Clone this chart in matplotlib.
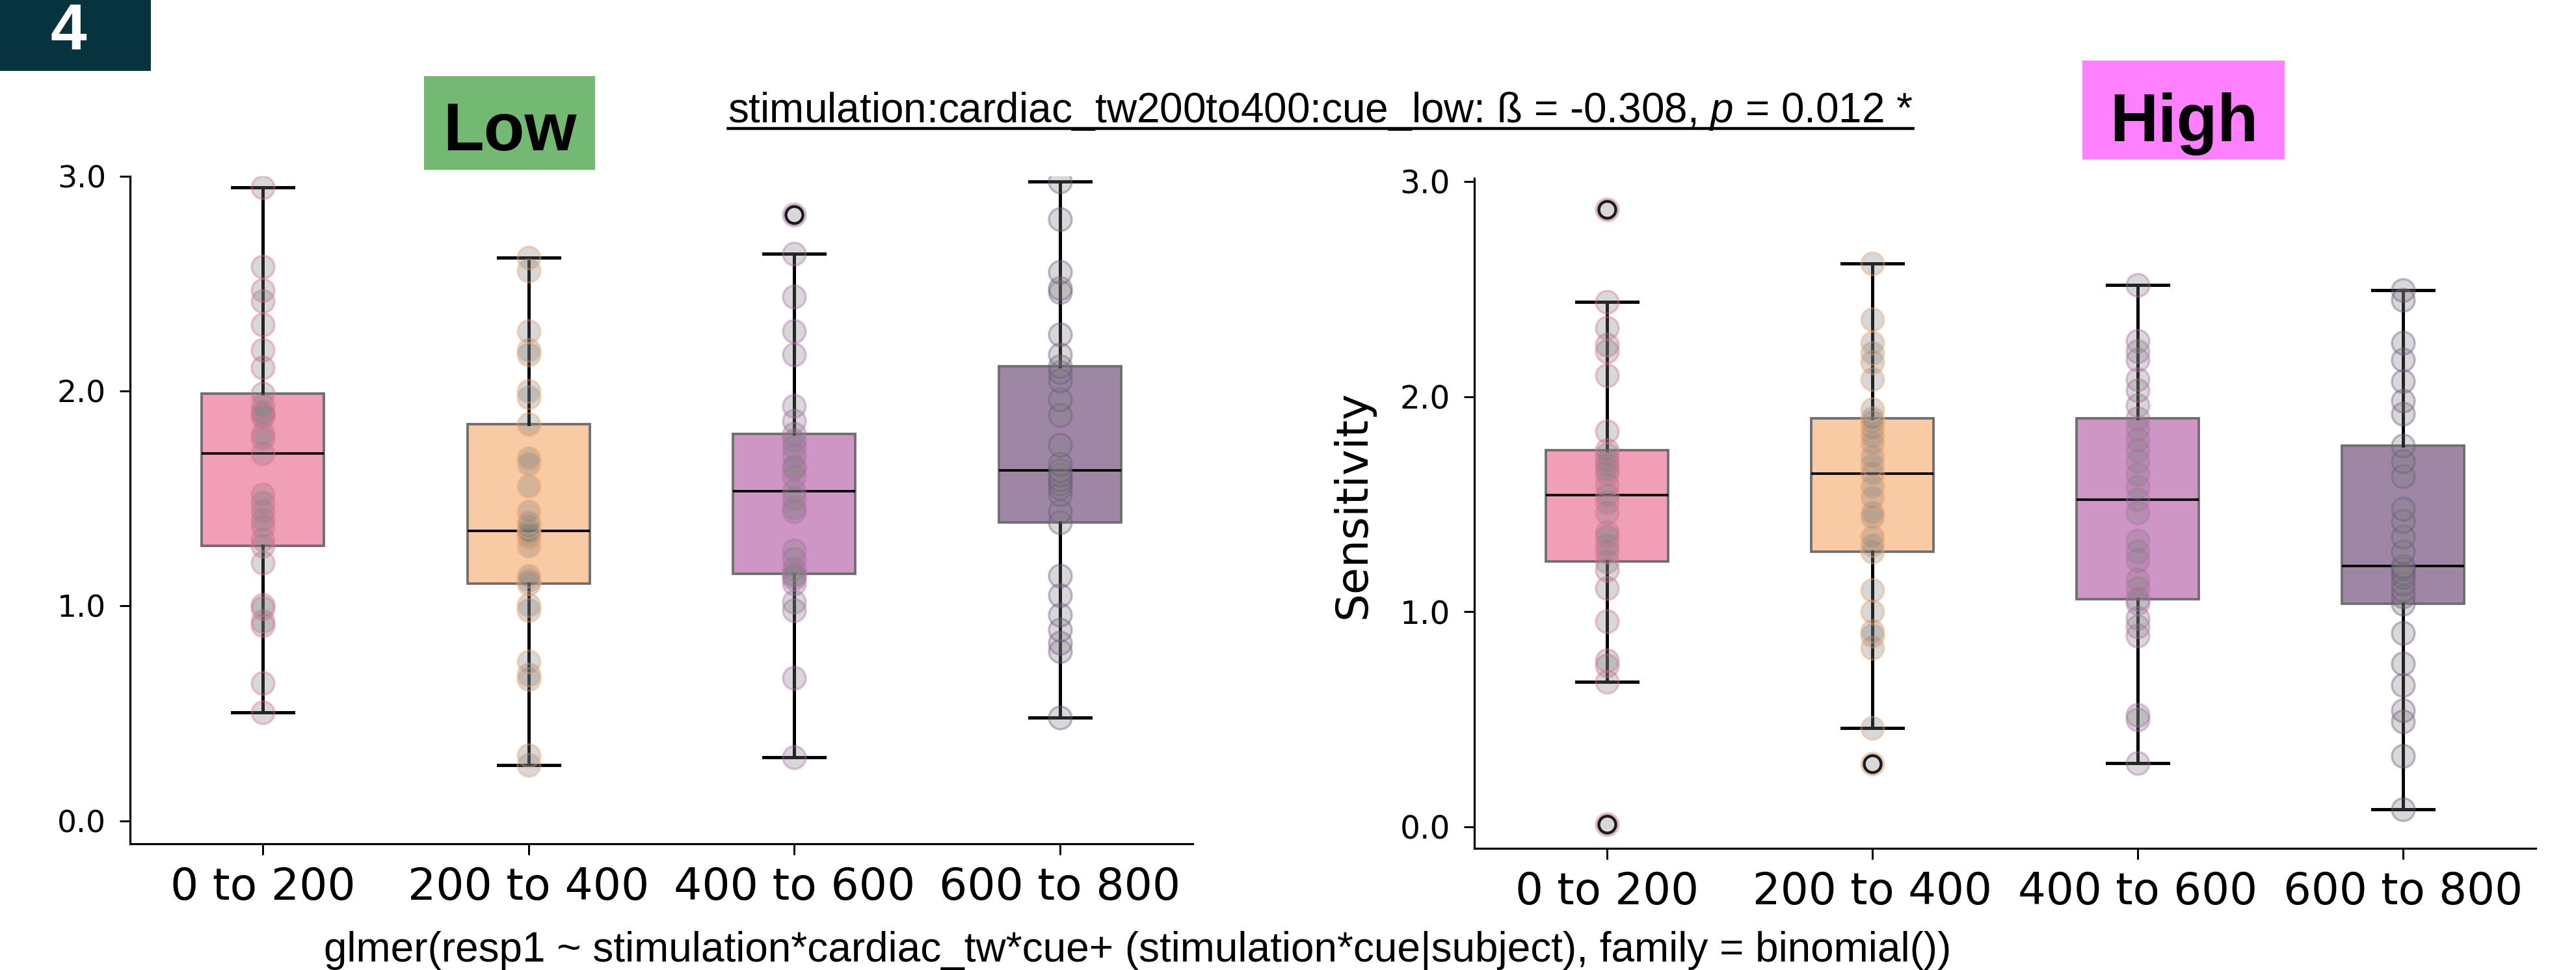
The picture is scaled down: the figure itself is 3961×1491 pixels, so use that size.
import matplotlib
matplotlib.use("Agg")
import matplotlib.pyplot as plt
from matplotlib.patches import Rectangle
from matplotlib.lines import Line2D
import numpy as np

plt.rcParams['mathtext.fontset'] = 'custom'
plt.rcParams['mathtext.rm'] = 'Liberation Sans'
plt.rcParams['mathtext.it'] = 'Liberation Sans:italic'

W, H, DPI = 3961, 1491, 100

# ---------------- data ----------------
categories = ["0 to 200", "200 to 400", "400 to 600", "600 to 800"]
ytick_values = [0.0, 1.0, 2.0, 3.0]
ytick_labels = ["0.0", "1.0", "2.0", "3.0"]

low_0_200 = [0.505, 0.64, 0.91, 0.93, 0.99, 1.005, 1.20, 1.28, 1.31, 1.37, 1.40, 1.44,
             1.48, 1.52, 1.71, 1.78, 1.80, 1.88, 1.89, 1.90, 1.93, 1.99, 2.11, 2.19,
             2.31, 2.42, 2.47, 2.58, 2.95]
low_200_400 = [0.26, 0.305, 0.66, 0.68, 0.74, 0.98, 1.005, 1.105, 1.12, 1.14, 1.28, 1.32,
               1.33, 1.34, 1.35, 1.37, 1.39, 1.44, 1.56, 1.66, 1.69, 1.845, 1.97, 2.00,
               2.17, 2.19, 2.28, 2.56, 2.62]
low_400_600 = [0.295, 0.665, 0.98, 1.02, 1.105, 1.13, 1.14, 1.15, 1.17, 1.22, 1.26, 1.44,
               1.46, 1.50, 1.534, 1.60, 1.64, 1.65, 1.70, 1.74, 1.77, 1.80, 1.86, 1.93,
               2.17, 2.28, 2.44, 2.64, 2.82]
low_600_800 = [0.48, 0.79, 0.83, 0.89, 0.96, 1.05, 1.14, 1.39, 1.44, 1.52, 1.55, 1.57,
               1.59, 1.61, 1.63, 1.66, 1.75, 1.89, 1.96, 2.05, 2.09, 2.116, 2.17, 2.265,
               2.46, 2.48, 2.556, 2.80, 2.976]

high_0_200 = [0.011, 0.675, 0.75, 0.775, 0.955, 1.11, 1.195, 1.235, 1.28, 1.31, 1.35, 1.37,
              1.46, 1.51, 1.543, 1.59, 1.64, 1.66, 1.68, 1.70, 1.73, 1.75, 1.84, 2.10,
              2.21, 2.24, 2.32, 2.44, 2.87]
high_200_400 = [0.294, 0.458, 0.83, 0.89, 0.91, 1.00, 1.10, 1.28, 1.31, 1.35, 1.44, 1.46,
                1.53, 1.58, 1.643, 1.68, 1.72, 1.78, 1.815, 1.85, 1.88, 1.90, 1.94, 2.08,
                2.16, 2.20, 2.25, 2.36, 2.62]
high_400_600 = [0.297, 0.50, 0.52, 0.89, 0.93, 0.97, 1.04, 1.058, 1.11, 1.15, 1.24, 1.28,
                1.33, 1.46, 1.52, 1.58, 1.64, 1.70, 1.75, 1.80, 1.85, 1.90, 1.96, 2.03,
                2.08, 2.17, 2.21, 2.26, 2.52]
high_600_800 = [0.082, 0.33, 0.49, 0.54, 0.66, 0.76, 0.90, 1.036, 1.07, 1.10, 1.13, 1.16,
                1.18, 1.20, 1.213, 1.28, 1.35, 1.42, 1.48, 1.63, 1.70, 1.773, 1.92, 1.98,
                2.07, 2.17, 2.25, 2.45, 2.495]

low_data = [low_0_200, low_200_400, low_400_600, low_600_800]
high_data = [high_0_200, high_200_400, high_400_600, high_600_800]

box_colors = ['#F19FB7', '#F9CBA5', '#CE96C5', '#9E87A4']
point_edge_colors = ['#E0709A', '#F2A76E', '#B86AAE', '#6E5480']

# ---------------- figure ----------------
fig = plt.figure(figsize=(W / DPI, H / DPI), dpi=DPI)


def fx(px):
    return px / W


def fy(py):
    return 1 - py / H


def px2pt(px):
    return px * 72.0 / DPI


def draw_panel(ax, data, ylim, ytick_fs, xtick_fs):
    bp = ax.boxplot(data, positions=range(len(data)), widths=0.46, patch_artist=True,
                    whis=1.5, showfliers=True, zorder=2,
                    boxprops=dict(edgecolor='#6e6e6e', linewidth=px2pt(3.8)),
                    medianprops=dict(color='black', linewidth=px2pt(3.8)),
                    whiskerprops=dict(color='black', linewidth=px2pt(5)),
                    capprops=dict(color='black', linewidth=px2pt(5)),
                    flierprops=dict(marker='o', markerfacecolor='none',
                                    markeredgecolor='#1c1c1c', markersize=px2pt(26),
                                    markeredgewidth=px2pt(4.4)))
    for patch, c in zip(bp['boxes'], box_colors):
        patch.set_facecolor(c)
    for f in bp['fliers']:
        f.set_zorder(6)
    for i, vals in enumerate(data):
        ec = matplotlib.colors.to_rgba(point_edge_colors[i], 0.4)
        ax.scatter(np.full(len(vals), i), vals, s=px2pt(35) ** 2,
                   facecolor=(0.5, 0.5, 0.5, 0.3), edgecolor=ec,
                   linewidths=px2pt(3.4), zorder=4)
    ax.set_xlim(-0.5, len(data) - 0.5)
    ax.set_ylim(*ylim)
    ax.set_xticks(range(len(data)))
    ax.set_xticklabels(categories, fontsize=xtick_fs, family='DejaVu Sans')
    ax.set_yticks(ytick_values)
    ax.set_yticklabels(ytick_labels, fontsize=ytick_fs, family='DejaVu Sans')
    for s in ['top', 'right']:
        ax.spines[s].set_visible(False)
    for s in ['left', 'bottom']:
        ax.spines[s].set_linewidth(px2pt(3.2))
    ax.tick_params(axis='y', length=px2pt(16), width=px2pt(3), pad=px2pt(21))
    ax.tick_params(axis='x', length=px2pt(17), width=px2pt(3), pad=px2pt(17))
    ax.set_facecolor('white')


ax_low = fig.add_axes([fx(200), fy(1297), (1834 - 200) / W, (1297 - 271) / H])
draw_panel(ax_low, low_data, (-0.107, 3.0), 34, 49)

ax_high = fig.add_axes([fx(2267), fy(1304), (3899 - 2267) / W, (1304 - 274) / H])
draw_panel(ax_high, high_data, (-0.1, 3.015), 35, 48.5)

fig.text(fx(2081), fy(776), "Sensitivity", rotation=90, ha='center', va='center',
         fontsize=48.5, family='DejaVu Sans')

# panel number box
fig.add_artist(Rectangle((0, fy(109)), 232 / W, 109 / H, transform=fig.transFigure,
                         facecolor='#06333D', edgecolor='none', zorder=1))
fig.text(fx(105), fy(76), "4", ha='center', va='baseline', color='white',
         fontsize=72, fontweight='bold', family='Liberation Sans', zorder=2)

# Low / High labels
fig.add_artist(Rectangle((fx(652), fy(261)), (915 - 652) / W, (261 - 117) / H,
                         transform=fig.transFigure, facecolor='#73B873',
                         edgecolor='none', zorder=1))
fig.text(fx(784), fy(231), "Low", ha='center', va='baseline', fontsize=74,
         fontweight='bold', family='Liberation Sans', zorder=2)
fig.add_artist(Rectangle((fx(3202), fy(245)), (3513 - 3202) / W, (245 - 93) / H,
                         transform=fig.transFigure, facecolor='#FF80FF',
                         edgecolor='none', zorder=1))
fig.text(fx(3358), fy(217), "High", ha='center', va='baseline', fontsize=74,
         fontweight='bold', family='Liberation Sans', zorder=2)

# statistics annotation (underlined)
ann = fig.text(fx(2030), fy(188),
               "stimulation:cardiac_tw200to400:cue_low: ß = -0.308, $p$ = 0.012 *",
               ha='center', va='baseline', fontsize=46, family='Liberation Sans')
fig.canvas.draw()
bb = ann.get_window_extent(renderer=fig.canvas.get_renderer())
fig.add_artist(Line2D([bb.x0 / W, bb.x1 / W], [fy(197), fy(197)],
                      transform=fig.transFigure, color='black', linewidth=px2pt(4.5)))

# model formula
fig.text(fx(1749), fy(1478),
         "glmer(resp1 ~ stimulation*cardiac_tw*cue+ (stimulation*cue|subject), family = binomial())",
         ha='center', va='baseline', fontsize=46, family='Liberation Sans')

fig.savefig("out.png", dpi=DPI, facecolor='white')
